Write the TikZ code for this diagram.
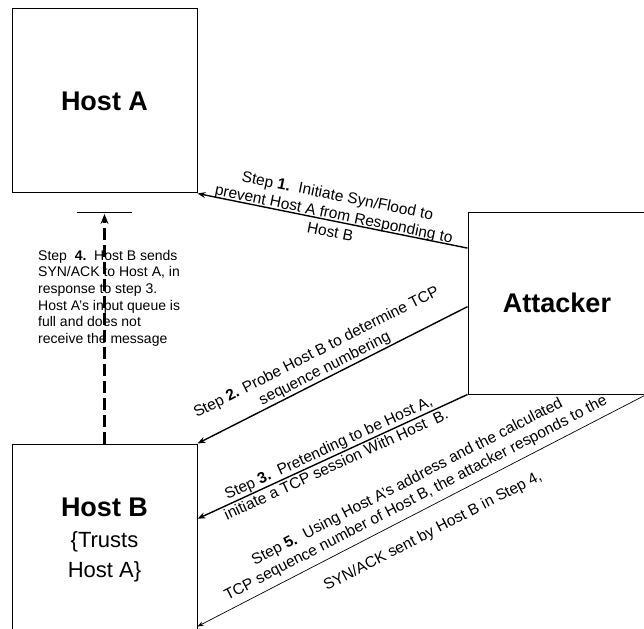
\documentclass[tikz,border=0pt]{standalone}
\usepackage{fontspec}
\setmainfont{Liberation Sans}
\usetikzlibrary{arrows.meta,calc}

\begin{document}
\begin{tikzpicture}[x=1pt,y=-1pt,
  box/.style={draw, line width=1pt, inner sep=0pt},
  bigname/.style={font=\fontsize{27}{30}\selectfont\bfseries},
  arr/.style={line width=1.4pt, -{Stealth[length=8pt,width=6pt]}},
  steptext/.style={sloped, align=center, inner sep=0pt, font=\fontsize{15.5}{18.5}\selectfont}]
\useasboundingbox (0,0) rectangle (644,628);
% the three machines
\node[box, bigname, minimum width=185pt, minimum height=184pt] (hostA) at (104.5,101) {Host A};
\node[box, minimum width=185pt, minimum height=192pt, align=center, font=\fontsize{22}{30.5}\selectfont] (hostB) at (104.5,540)
  {{\fontsize{27}{30}\selectfont\bfseries Host B}\\\{Trusts\\Host A\}};
\node[box, bigname, minimum width=178pt, minimum height=182pt] (attacker) at (557,303) {Attacker};
% end points on the box sides
\coordinate (s1) at ($(attacker.north west)!0.2!(attacker.south west)$);
\coordinate (s2) at ($(attacker.north west)!0.52!(attacker.south west)$);
\coordinate (t3) at ($(hostB.north east)!0.39!(hostB.south east)$);
\coordinate (t5) at ($(hostB.north east)!0.948!(hostB.south east)$);
% steps 1-3
\draw[arr] (s1) -- node[steptext, yshift=7.5pt]
  {Step \textbf{1.}\ \ Initiate Syn/Flood to\\prevent Host A from Responding to\\Host B} (hostA.south east);
\draw[arr] (s2) -- node[steptext, yshift=18pt, xshift=-4pt]
  {Step \textbf{2.} Probe Host B to determine TCP\\sequence numbering} (hostB.north east);
\draw[arr] (attacker.south west) -- node[steptext, yshift=1pt]
  {Step \textbf{3.}\ \ Pretending to be Host A,\\initiate a TCP session With Host\ \ B.} (t3);
% step 4, blocked reply
\node[anchor=north west, align=left, inner sep=0pt, font=\fontsize{14}{16.6}\selectfont] (step4) at (38,250)
  {Step\ \ \textbf{4.}\ \ Host B sends\\SYN/ACK to Host A, in\\response to step 3.\\Host A’s input queue is\\full and does not\\receive the message};
\coordinate (block) at (104.5,212);
\draw[line width=0.9pt] ([xshift=-28pt]block) -- ([xshift=27pt]block);
\draw[line width=2.8pt, dash pattern=on 12pt off 5pt, -{Stealth[length=10pt,width=8pt]}] (hostB.north) -- ([yshift=-2pt]block);
% step 5
\draw[line width=0.7pt, -{Stealth[length=6pt,width=4.5pt]}] (attacker.south east) -- node[steptext, yshift=4pt]
  {Step \textbf{5.}\ \ Using Host A’s address and the calculated\\TCP sequence number of Host B, the attacker responds to the\\[18.5pt]SYN/ACK sent by Host B in Step 4,} (t5);
\end{tikzpicture}
\end{document}
